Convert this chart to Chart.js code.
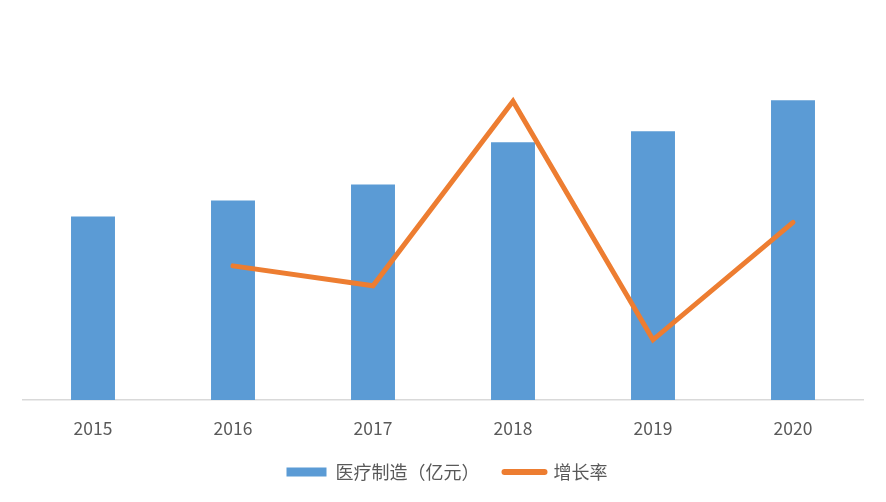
<!DOCTYPE html>
<html>
<head>
<meta charset="utf-8">
<script src="https://cdn.jsdelivr.net/npm/chart.js@4"></script>
<style>
html,body{margin:0;padding:0;background:#fff;}
#wrap{width:886px;height:502px;}
</style>
</head>
<body>
<div id="wrap"><canvas id="c" width="886" height="502"></canvas></div>
<script>
const categories = ['2015', '2016', '2017', '2018', '2019', '2020'];
const outputValues = [183, 199, 215, 257, 268, 299];
const growthRates = [null, 8.8, 7.5, 19.6, 3.95, 11.65];
const seriesNames = ['医疗制造（亿元）', '增长率'];

const FONT = '"Noto Sans CJK SC", "Noto Sans", sans-serif';
const TEXT = '#595959';

// wider horizontal gap between legend items without extra vertical space
const legendSpacing = {
  id: 'legendSpacing',
  afterInit(chart) {
    const lg = chart.legend;
    if (!lg) return;
    const origFit = lg.fit;
    lg.fit = function () { origFit.call(this); this.height -= 17; };
  },
  afterLayout(chart) {
    const lg = chart.legend;
    if (!lg) return;
    lg.top -= 19;
    lg.left += 4;
    lg.right += 4;
  }
};

new Chart(document.getElementById('c'), {
  data: {
    labels: categories,
    datasets: [
      {
        type: 'line',
        label: seriesNames[1],
        data: growthRates,
        yAxisID: 'y2',
        borderColor: '#ED7D31',
        backgroundColor: '#ED7D31',
        borderWidth: 5,
        pointRadius: 0,
        tension: 0,
        borderCapStyle: 'round',
        borderJoinStyle: 'miter',
        order: 0
      },
      {
        type: 'bar',
        label: seriesNames[0],
        data: outputValues,
        yAxisID: 'y',
        backgroundColor: '#5B9BD5',
        categoryPercentage: 1,
        barPercentage: 0.314,
        order: 1
      }
    ]
  },
  plugins: [legendSpacing],
  options: {
    responsive: false,
    animation: false,
    devicePixelRatio: 1,
    layout: { padding: { left: 23, right: 23, top: 19, bottom: 9 } },
    plugins: {
      tooltip: { enabled: false },
      legend: {
        position: 'bottom',
        labels: {
          font: { family: FONT, size: 18 },
          color: TEXT,
          usePointStyle: true,
          boxHeight: 9,
          pointStyleWidth: 40,
          padding: 25,
          generateLabels: function (chart) {
            return [
              { text: seriesNames[0], fillStyle: '#5B9BD5', strokeStyle: '#5B9BD5', lineWidth: 0, pointStyle: 'rect', datasetIndex: 1, hidden: false, fontColor: TEXT },
              { text: seriesNames[1], fillStyle: '#ED7D31', strokeStyle: '#ED7D31', lineWidth: 6, lineCap: 'round', pointStyle: 'line', datasetIndex: 0, hidden: false, fontColor: TEXT }
            ];
          }
        }
      }
    },
    scales: {
      x: {
        grid: { display: false, drawTicks: false },
        border: { display: true, color: '#D9D9D9', width: 1.5 },
        ticks: { font: { family: FONT, size: 17.5 }, color: TEXT, padding: 18 }
      },
      y: {
        display: false,
        min: 0,
        max: 380
      },
      y2: {
        display: false,
        position: 'right',
        min: 0,
        max: 25
      }
    }
  }
});
</script>
</body>
</html>
